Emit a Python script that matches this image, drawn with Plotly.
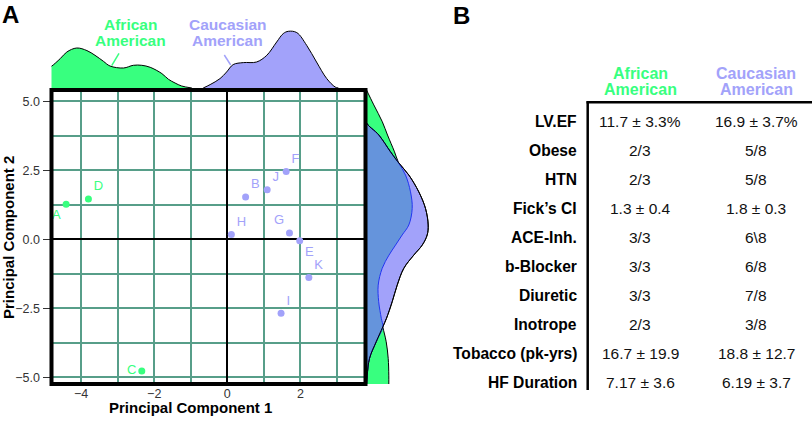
import numpy as np
import plotly.graph_objects as go

W, H = 812, 421
FONT = "Liberation Sans, Arial, Helvetica, sans-serif"
GREEN = "#38FF7F"
PURPLE = "#A2A2FA"
OVERLAP = "#6594DC"
BLUELINE = "#2236F0"
GRID = "#579E89"

# ---------------- data ----------------
AA_LABELS = ["A", "D", "C"]
AA_PC1 = [-4.41, -3.80, -2.34]
AA_PC2 = [1.27, 1.46, -4.77]
AA_POS = ["bottom left", "top right", "middle left"]

CA_LABELS = ["B", "J", "F", "H", "G", "E", "K", "I"]
CA_PC1 = [0.50, 1.09, 1.61, 0.11, 1.70, 1.98, 2.23, 1.47]
CA_PC2 = [1.53, 1.80, 2.46, 0.18, 0.23, -0.05, -1.38, -2.68]
CA_POS = ["top right", "top right", "top right", "top right", "top left",
          "bottom right", "top right", "top right"]

# top marginal density (PC1)
TOP_AA_X = [-4.85, -4.80, -4.57, -4.39, -4.12, -3.84, -3.62, -3.39, -3.21, -2.84,
            -2.57, -2.34, -2.11, -1.79, -1.61, -1.43, -1.25, -0.97]
TOP_AA_D = [21, 22, 29.4, 36, 40, 37.4, 32.7, 26.7, 22, 20,
            22.7, 22.7, 20.7, 14.4, 8.7, 5, 2, 0]
TOP_CA_X = [-0.66, -0.47, -0.20, -0.02, 0.16, 0.44, 0.80, 1.08, 1.35, 1.53,
            1.67, 1.90, 2.17, 2.44, 2.72, 2.95, 3.04]
TOP_CA_D = [0, 3.4, 9.4, 16, 23.4, 25.4, 26, 32.7, 46, 54.4,
            56.7, 55.4, 42.7, 26, 9.4, 1, 0]

# right marginal density (PC2)
RIGHT_Y = [5.45, 4.87, 4.26, 3.78, 3.17, 2.81, 2.33, 1.72, 1.12, 0.52, 0.16,
           -0.21, -0.57, -1.05, -1.66, -2.26, -2.86, -3.17, -3.71, -4.31, -4.92, -5.30]
RIGHT_AA_D = [0.5, 8.3, 16.8, 22, 29, 32.7, 40, 45, 46.7, 43.3, 36.7,
              30, 23.5, 16.7, 12.7, 13.2, 15.8, 17.3, 20.7, 22.7, 23.3, 23.3]
RIGHT_CA_D = [0, 0, 0.5, 13.3, 25, 32.3, 43.3, 53.3, 60, 62.7, 61.7,
              56.7, 48.3, 38.3, 31.7, 26.7, 21, 17.3, 10.7, 4, 1.7, 1]

# table
ROW_LABELS = ["LV.EF", "Obese", "HTN", "Fick\u2019s CI", "ACE-Inh.", "b-Blocker",
              "Diuretic", "Inotrope", "Tobacco (pk-yrs)", "HF Duration"]
AA_VALUES = ["11.7 \u00b1 3.3%", "2/3", "2/3", "1.3 \u00b1 0.4", "3/3", "3/3",
             "3/3", "2/3", "16.7 \u00b1 19.9", "7.17 \u00b1 3.6"]
CA_VALUES = ["16.9 \u00b1 3.7%", "5/8", "5/8", "1.8 \u00b1 0.3", "6\\8", "6/8",
             "7/8", "3/8", "18.8 \u00b1 12.7", "6.19 \u00b1 3.7"]


def px(x):
    return x / W


def py(y):
    return 1 - y / H


fig = go.Figure()

# top density
fig.add_trace(go.Scatter(x=TOP_AA_X, y=TOP_AA_D, mode="lines", fill="tozeroy",
                         fillcolor=GREEN, line=dict(color="black", width=1, shape="spline"),
                         xaxis="x2", yaxis="y2", hoverinfo="skip"))
fig.add_trace(go.Scatter(x=TOP_CA_X, y=TOP_CA_D, mode="lines", fill="tozeroy",
                         fillcolor=PURPLE, line=dict(color="black", width=1, shape="spline"),
                         xaxis="x2", yaxis="y2", hoverinfo="skip"))

# right density
overlap = np.minimum(np.array(RIGHT_AA_D), np.array(RIGHT_CA_D))
fig.add_trace(go.Scatter(x=RIGHT_AA_D, y=RIGHT_Y, mode="lines", fill="tozerox",
                         fillcolor=GREEN, line=dict(color="black", width=1, shape="spline"),
                         xaxis="x3", yaxis="y3", hoverinfo="skip"))
fig.add_trace(go.Scatter(x=RIGHT_CA_D, y=RIGHT_Y, mode="lines", fill="tozerox",
                         fillcolor=PURPLE, line=dict(color="black", width=1, shape="spline"),
                         xaxis="x3", yaxis="y3", hoverinfo="skip"))
fig.add_trace(go.Scatter(x=overlap, y=RIGHT_Y, mode="lines", fill="tozerox",
                         fillcolor=OVERLAP, line=dict(color=BLUELINE, width=1, shape="spline"),
                         xaxis="x3", yaxis="y3", hoverinfo="skip"))
fig.add_trace(go.Scatter(x=RIGHT_CA_D, y=RIGHT_Y, mode="lines",
                         line=dict(color="black", width=1, shape="spline"),
                         xaxis="x3", yaxis="y3", hoverinfo="skip"))

# scatter
fig.add_trace(go.Scatter(x=AA_PC1, y=AA_PC2, mode="markers+text", text=AA_LABELS,
                         textposition=AA_POS, marker=dict(color=GREEN, size=7),
                         textfont=dict(color=GREEN, size=13, family=FONT)))
fig.add_trace(go.Scatter(x=CA_PC1, y=CA_PC2, mode="markers+text", text=CA_LABELS,
                         textposition=CA_POS, marker=dict(color=PURPLE, size=7),
                         textfont=dict(color=PURPLE, size=13, family=FONT)))

x_dom = [px(51.5), px(365.5)]
y_dom = [py(384), py(90)]

fig.update_layout(
    width=W, height=H, margin=dict(l=0, r=0, t=0, b=0),
    paper_bgcolor="white", plot_bgcolor="rgba(0,0,0,0)", showlegend=False,
    font=dict(family=FONT, color="#333333"),
    xaxis=dict(domain=x_dom, range=[-4.81, 3.78], dtick=2, tick0=0,
               showgrid=True, gridcolor=GRID, gridwidth=1.5,
               minor=dict(dtick=1, tick0=0, showgrid=True, gridcolor=GRID, gridwidth=1.5),
               zeroline=True, zerolinecolor="black", zerolinewidth=2,
               ticks="",
               tickfont=dict(size=12.5, color="#333333"), showline=False),
    yaxis=dict(domain=y_dom, range=[-5.24, 5.41], dtick=2.5, tick0=0, tickformat=".1f",
               showgrid=True, gridcolor=GRID, gridwidth=1.5,
               minor=dict(dtick=1.25, tick0=0, showgrid=True, gridcolor=GRID, gridwidth=1.5),
               zeroline=True, zerolinecolor="black", zerolinewidth=2,
               ticks="outside", ticklen=8, tickcolor="#333333",
               tickfont=dict(size=12.5, color="#333333"), showline=False),
    xaxis2=dict(domain=x_dom, matches="x", anchor="y2", visible=False),
    yaxis2=dict(domain=[py(88), py(28)], range=[0, 60], anchor="x2", visible=False),
    xaxis3=dict(domain=[px(365.5), px(440)], range=[0, 74.5], anchor="y3", visible=False),
    yaxis3=dict(domain=y_dom, matches="y", anchor="x3", visible=False),
)

shapes = [
    dict(type="rect", xref="x domain", yref="y domain", x0=0, x1=1, y0=0, y1=1,
         line=dict(color="black", width=4), layer="above"),
    # leader lines for group labels
    dict(type="line", xref="paper", yref="paper", x0=px(111.7), y0=py(65.7),
         x1=px(119), y1=py(53.3), line=dict(color=GREEN, width=1.5)),
    dict(type="line", xref="paper", yref="paper", x0=px(224.3), y0=py(55),
         x1=px(230.7), y1=py(65), line=dict(color=PURPLE, width=1.5)),
    # table rules
    dict(type="line", xref="paper", yref="paper", x0=px(586.5), y0=py(102.3),
         x1=px(812), y1=py(102.3), line=dict(color="black", width=2.5)),
    dict(type="line", xref="paper", yref="paper", x0=px(587.7), y0=py(101.2),
         x1=px(587.7), y1=py(390), line=dict(color="black", width=2.5)),
]
fig.update_layout(shapes=shapes)

ann = []


def add_text(text, x, y, size, color="black", bold=False, xanchor="center", textangle=0):
    ann.append(dict(text=f"<b>{text}</b>" if bold else text, x=px(x), y=py(y),
                    xref="paper", yref="paper", showarrow=False, xanchor=xanchor,
                    yanchor="middle", textangle=textangle,
                    font=dict(family=FONT, size=size, color=color)))


add_text("A", 10, 14, 24, bold=True)
add_text("B", 461.7, 15, 24, bold=True)
add_text("Principal Component 1", 190.8, 407.5, 15, bold=True)
add_text("Principal Component 2", 8.5, 237.5, 15, bold=True, textangle=-90)

add_text("African", 130, 25, 15.5, GREEN, bold=True)
add_text("American", 130, 41, 15.5, GREEN, bold=True)
add_text("Caucasian", 227.7, 25, 15.5, PURPLE, bold=True)
add_text("American", 227.7, 41, 15.5, PURPLE, bold=True)

add_text("African", 640, 73.3, 16, GREEN, bold=True)
add_text("American", 640, 89.3, 16, GREEN, bold=True)
add_text("Caucasian", 756.3, 73.3, 16, PURPLE, bold=True)
add_text("American", 756.3, 89.3, 16, PURPLE, bold=True)

for i, (lab, a, c) in enumerate(zip(ROW_LABELS, AA_VALUES, CA_VALUES)):
    yy = 121.7 + i * 28.96
    add_text(lab, 579, yy, 15.6, "black", bold=True, xanchor="right")
    add_text(a, 640, yy, 15.5, "#111111")
    add_text(c, 756.3, yy, 15.5, "#111111")

fig.update_layout(annotations=ann)
fig.write_html("out.html", config={"displayModeBar": False},
               post_script="document.body.style.margin='0';document.body.style.overflow='hidden';")
